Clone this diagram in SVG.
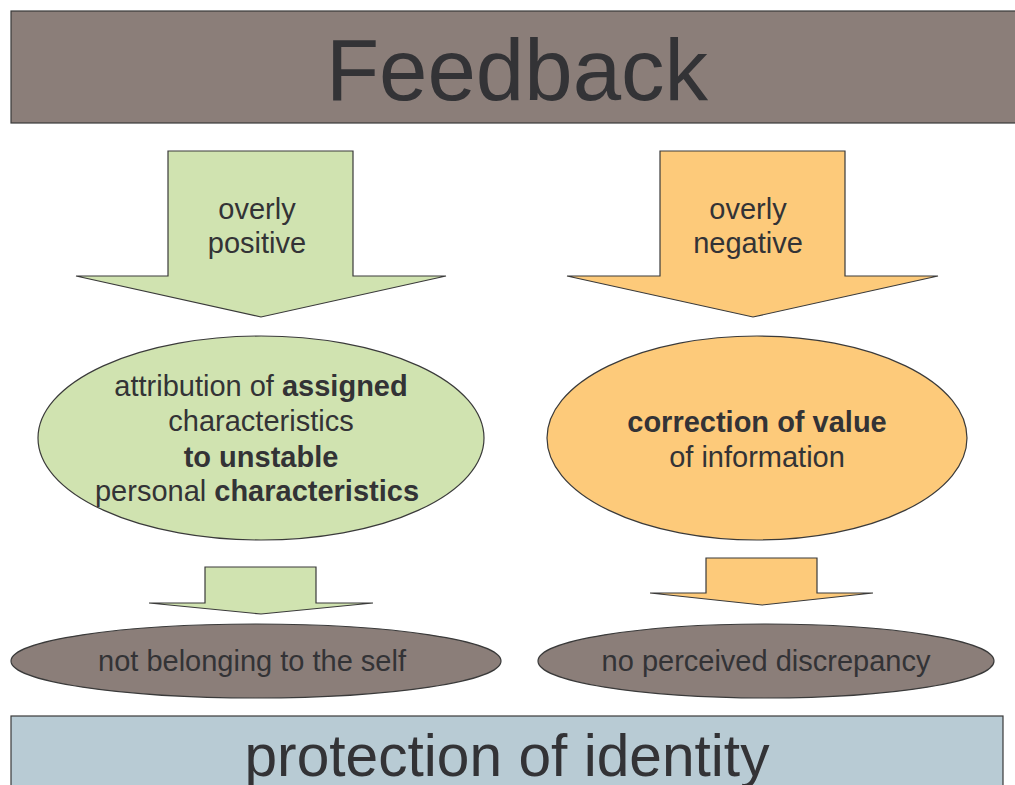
<svg xmlns="http://www.w3.org/2000/svg" width="1015" height="785" viewBox="0 0 1015 785">
  <style>
    text { font-family: "Liberation Sans", Arial, sans-serif; fill: #333336; text-anchor: middle; }
    .title { font-size: 87px; }
    .big { font-size: 60px; }
    .lbl { font-size: 29px; }
    .b { font-weight: bold; }
    .edge { stroke: #3a3a3a; stroke-width: 1.2; }
    .green { fill: #d0e3b0; }
    .orange { fill: #fdca7a; }
    .taupe { fill: #8b7e79; }
    .slate { fill: #b8cbd4; }
  </style>

  <g id="title">
    <rect x="11" y="11" width="1012" height="112" class="taupe edge"/>
    <text x="517" y="100" class="title">Feedback</text>
  </g>

  <g id="connectors">
    <!-- block arrows from the title down to each branch -->
    <polygon class="green edge" points="168,151 353,151 353,276 446,276 261,317 76,276 168,276"/>
    <polygon class="orange edge" points="660,151 845,151 845,276 938,276 753,317 567,276 660,276"/>
    <!-- smaller arrows from each explanation to its outcome -->
    <polygon class="green edge" points="205,567 316,567 316,603 373,603 261,614 149,603 205,603"/>
    <polygon class="orange edge" points="706,558 817,558 817,593 873,593 762,605 650,593 706,593"/>
  </g>

  <g id="label-positive">
    <text x="257" y="219" class="lbl">overly</text>
    <text x="257" y="253" class="lbl">positive</text>
  </g>

  <g id="label-negative">
    <text x="748" y="219" class="lbl">overly</text>
    <text x="748" y="253" class="lbl">negative</text>
  </g>

  <g id="attribution">
    <ellipse cx="261" cy="438" rx="223" ry="102" class="green edge"/>
    <text x="261" y="396" class="lbl">attribution of <tspan class="b">assigned</tspan></text>
    <text x="261" y="431" class="lbl">characteristics</text>
    <text x="261" y="467" class="lbl b">to unstable</text>
    <text x="257" y="501" class="lbl">personal <tspan class="b">characteristics</tspan></text>
  </g>

  <g id="correction">
    <ellipse cx="757" cy="438" rx="210" ry="102" class="orange edge"/>
    <text x="757" y="432" class="lbl b">correction of value</text>
    <text x="757" y="467" class="lbl">of information</text>
  </g>

  <g id="not-self">
    <ellipse cx="256" cy="661" rx="245" ry="37" class="taupe edge"/>
    <text x="252" y="671" class="lbl">not belonging to the self</text>
  </g>

  <g id="no-discrepancy">
    <ellipse cx="766" cy="661" rx="228" ry="37" class="taupe edge"/>
    <text x="766" y="671" class="lbl">no perceived discrepancy</text>
  </g>

  <g id="protection">
    <rect x="11" y="716" width="992" height="80" class="slate edge"/>
    <text x="507" y="776" class="big" textLength="525" lengthAdjust="spacingAndGlyphs">protection of identity</text>
  </g>
</svg>
